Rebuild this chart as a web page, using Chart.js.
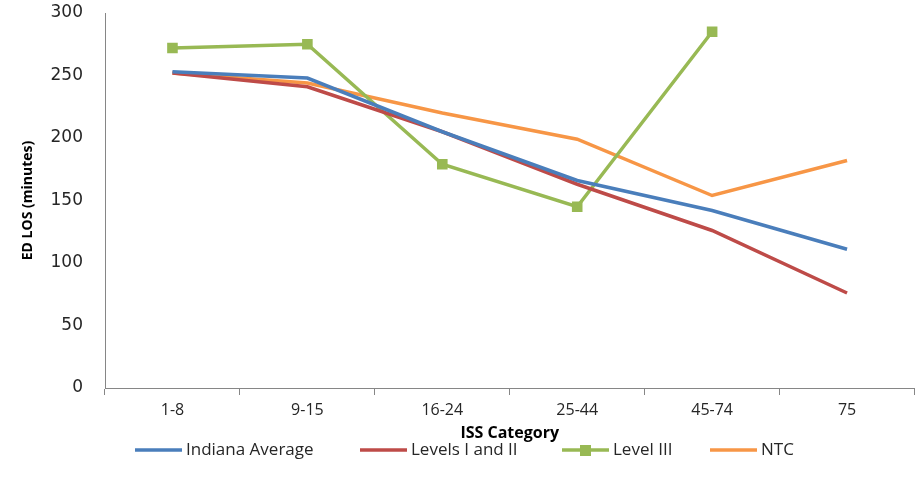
<!DOCTYPE HTML>
<html>
<head>
  <title>ED LOS by ISS Category</title>
  <script src="https://cdn.jsdelivr.net/npm/chart.js"></script>
  <style>
    body { margin: 0; background: #fff; }
    #wrap { width: 922px; height: 489px; }
  </style>
</head>
<body>
  <div id="wrap"><canvas id="chart"></canvas></div>
  <script>
    const categories = ['1-8', '9-15', '16-24', '25-44', '45-74', '75'];
    const indianaAverage = [253, 248, 205, 166, 142, 111];
    const levelsIandII = [252, 241, 205, 163, 126, 76];
    const levelIII = [272, 275, 179, 145, 285, null];
    const ntc = [252, 244, 220, 199, 154, 182];
    const yTicks = [0, 50, 100, 150, 200, 250, 300];

    const axisGray = '#868686';

    // legend drawn by hand so the Level III entry gets its square on the line
    const bottomLegend = {
      id: 'bottomLegend',
      afterDraw(chart) {
        const ctx = chart.ctx;
        const starts = [135, 360, 562, 710];
        const y = 450;
        ctx.save();
        ctx.font = '17px "Open Sans", sans-serif';
        ctx.textBaseline = 'middle';
        chart.data.datasets.forEach((ds, i) => {
          const x = starts[i];
          ctx.strokeStyle = ds.borderColor;
          ctx.lineWidth = 3.5;
          ctx.beginPath();
          ctx.moveTo(x, y);
          ctx.lineTo(x + 47, y);
          ctx.stroke();
          if (ds.pointRadius > 0) {
            ctx.fillStyle = ds.borderColor;
            ctx.fillRect(x + 18, y - 5, 11, 11);
          }
          ctx.fillStyle = '#262626';
          ctx.fillText(ds.label, x + 51, y);
        });
        ctx.restore();
      }
    };

    new Chart(document.getElementById('chart'), {
      type: 'line',
      data: {
        labels: categories,
        datasets: [
          { label: 'Indiana Average', data: indianaAverage, borderColor: '#4a7ebb', pointRadius: 0 },
          { label: 'Levels I and II', data: levelsIandII, borderColor: '#be4b48', pointRadius: 0 },
          { label: 'Level III', data: levelIII, borderColor: '#98b954', backgroundColor: '#98b954',
            pointStyle: 'rect', pointRadius: 7.5, pointHoverRadius: 7.5, pointBorderWidth: 0 },
          { label: 'NTC', data: ntc, borderColor: '#f79646', pointRadius: 0 }
        ].map(ds => Object.assign({ borderWidth: 3.5, tension: 0, fill: false }, ds))
      },
      options: {
        responsive: true,
        maintainAspectRatio: false,
        animation: false,
        layout: { padding: { top: 13, right: 3, bottom: 30, left: 0 } },
        plugins: {
          legend: { display: false },
          tooltip: { enabled: false }
        },
        scales: {
          x: {
            offset: true,
            grid: { display: true, offset: true, drawOnChartArea: false, drawTicks: true, tickLength: 7, color: axisGray },
            border: { color: axisGray },
            ticks: { color: '#262626', font: { family: '"Open Sans", sans-serif', size: 16 }, padding: 6, maxRotation: 0 },
            title: { display: true, text: 'ISS Category', color: '#000', font: { family: '"Open Sans", sans-serif', size: 16, weight: 'bold' }, padding: { top: 2, bottom: 16 } },
            afterFit: s => { s.height = 71; s.paddingLeft = 0; s.paddingRight = 0; }
          },
          y: {
            min: 0,
            max: 300,
            afterBuildTicks: s => { s.ticks = yTicks.map(v => ({ value: v })); },
            grid: { display: true, drawOnChartArea: false, drawTicks: false, color: axisGray },
            border: { color: axisGray },
            ticks: { color: '#262626', font: { family: '"DejaVu Sans", sans-serif', size: 17 }, padding: 22 },
            title: { display: true, text: 'ED LOS (minutes)', color: '#000', font: { family: '"Open Sans", sans-serif', size: 14, weight: 'bold' }, padding: { top: 20, bottom: 0 } },
            afterFit: s => { s.width = 105; s.paddingTop = 0; s.paddingBottom = 0; }
          }
        }
      },
      plugins: [bottomLegend]
    });
  </script>
</body>
</html>
